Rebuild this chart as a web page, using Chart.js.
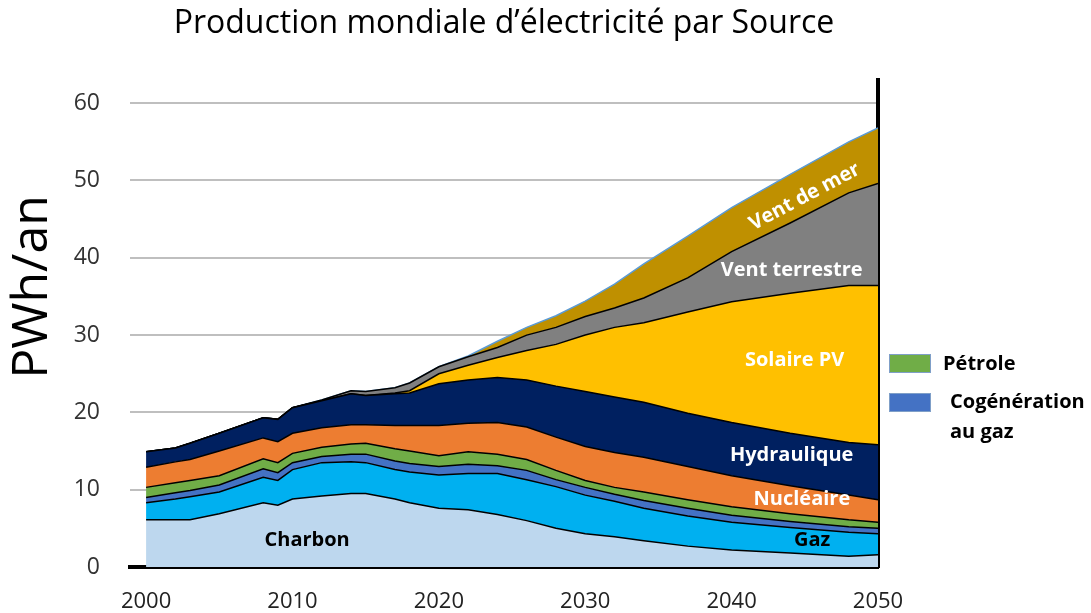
<!DOCTYPE html>
<html>
<head>
<meta charset="utf-8">
<script src="https://cdn.jsdelivr.net/npm/chart.js@4.4.0/dist/chart.umd.min.js"></script>
<style>
  body { margin: 0; background: #fff; }
  #wrap { position: relative; width: 1091px; height: 613px; }
  .legend-item { position: absolute; left: 889px; font-family: 'Open Sans', sans-serif; font-weight: bold; font-size: 20px; color: #000; }
  .legend-box { position: absolute; width: 42px; height: 19px; border: 1px solid #7f9fc8; box-sizing: border-box; }
  .legend-text { position: absolute; white-space: nowrap; line-height: 30px; }
</style>
</head>
<body>
<div id="wrap">
  <canvas id="chart" width="1091" height="613"></canvas>
  <div class="legend-item" style="top:354px">
    <div class="legend-box" style="background:#70AD47"></div>
    <div class="legend-text" style="left:54px; top:-6px">Pétrole</div>
  </div>
  <div class="legend-item" style="top:393px">
    <div class="legend-box" style="background:#4472C4"></div>
    <div class="legend-text" style="left:61px; top:-7px">Cogénération<br>au gaz</div>
  </div>
</div>
<script>
// values per source, PWh/an
const years = [2000, 2002, 2003, 2005, 2008, 2009, 2010, 2012, 2014, 2015, 2017, 2018, 2020, 2022, 2024, 2026, 2028, 2030, 2032, 2034, 2037, 2040, 2044, 2048, 2050];
const charbon = [6.1, 6.1, 6.1, 6.9, 8.3, 8.0, 8.8, 9.2, 9.5, 9.5, 8.8, 8.3, 7.6, 7.4, 6.8, 6.0, 5.0, 4.3, 3.9, 3.4, 2.7, 2.2, 1.8, 1.4, 1.6];
const gaz = [2.2, 2.7, 3.0, 2.8, 3.3, 3.2, 3.8, 4.3, 4.1, 4.0, 3.8, 4.0, 4.3, 4.7, 5.3, 5.3, 5.4, 5.0, 4.6, 4.2, 3.9, 3.6, 3.3, 3.1, 2.7];
const cogen = [0.7, 0.8, 0.8, 0.9, 1.1, 1.0, 0.9, 0.8, 1.0, 1.1, 1.1, 1.1, 1.1, 1.2, 1.0, 1.2, 0.9, 1.0, 0.9, 1.0, 1.0, 0.9, 0.8, 0.7, 0.7];
const petrole = [1.3, 1.3, 1.3, 1.2, 1.3, 1.3, 1.2, 1.2, 1.3, 1.4, 1.6, 1.6, 1.4, 1.6, 1.5, 1.4, 1.2, 0.9, 0.9, 1.1, 1.1, 1.1, 1.0, 0.9, 0.8];
const nucleaire = [2.6, 2.7, 2.7, 3.2, 2.7, 2.7, 2.6, 2.5, 2.5, 2.4, 3.0, 3.3, 3.9, 3.7, 4.1, 4.2, 4.3, 4.4, 4.5, 4.5, 4.3, 4.0, 3.6, 3.2, 2.9];
const hydraulique = [2.0, 1.8, 2.1, 2.3, 2.6, 2.9, 3.3, 3.5, 4.0, 3.8, 4.1, 4.2, 5.4, 5.6, 5.8, 6.1, 6.6, 7.1, 7.2, 7.1, 6.9, 6.9, 6.8, 6.8, 7.1];
const solaire = [0, 0, 0, 0, 0, 0, 0, 0, 0, 0, 0.1, 0.3, 1.3, 1.9, 2.6, 3.8, 5.4, 7.3, 9.0, 10.3, 13.1, 15.6, 18.1, 20.3, 20.6];
const ventTerrestre = [0, 0, 0, 0, 0, 0, 0, 0.1, 0.4, 0.5, 0.7, 1.0, 0.9, 1.1, 1.3, 2.0, 2.2, 2.4, 2.5, 3.2, 4.4, 6.5, 9.1, 12.0, 13.2];
const ventMer = [0, 0, 0, 0, 0, 0, 0, 0, 0, 0, 0, 0, 0, 0.1, 0.8, 1.0, 1.5, 2.0, 3.1, 4.4, 5.4, 5.7, 6.3, 6.6, 7.2];

const xTicks = [2000, 2010, 2020, 2030, 2040, 2050];
const yTicks = [0, 10, 20, 30, 40, 50, 60];

// in-chart labels: [text, year, value, color, angle]
const areaLabels = [
  ['Charbon', 2011.0, 3.5, '#000', 0],
  ['Gaz', 2045.5, 3.5, '#000', 0],
  ['Nucléaire', 2044.8, 8.8, '#fff', 0],
  ['Hydraulique', 2044.1, 14.5, '#fff', 0],
  ['Solaire PV', 2044.3, 26.8, '#fff', 0],
  ['Vent terrestre', 2044.1, 38.4, '#fff', 0],
  ['Vent de mer', 2045.0, 47.9, '#fff', -28]
];

const series = [
  ['Charbon', charbon, '#BDD7EE'],
  ['Gaz', gaz, '#00B0F0'],
  ['Cogénération au gaz', cogen, '#4472C4'],
  ['Pétrole', petrole, '#70AD47'],
  ['Nucléaire', nucleaire, '#ED7D31'],
  ['Hydraulique', hydraulique, '#002060'],
  ['Solaire PV', solaire, '#FFC000'],
  ['Vent terrestre', ventTerrestre, '#808080'],
  ['Vent de mer', ventMer, '#BF9000']
];

const datasets = series.map(([name, vals, color], i) => ({
  label: name,
  data: years.map((yr, j) => ({ x: yr, y: vals[j] })),
  backgroundColor: color,
  borderColor: i === series.length - 1 ? '#5B9BD5' : '#000',
  borderWidth: 1.5,
  fill: i === 0 ? 'origin' : '-1',
  pointRadius: 0,
  tension: 0
}));

const labelPlugin = {
  id: 'areaLabels',
  afterDatasetsDraw(chart) {
    const { ctx, scales: { x, y } } = chart;
    ctx.save();
    ctx.font = 'bold 20px "Open Sans"';
    ctx.textAlign = 'center';
    ctx.textBaseline = 'middle';
    areaLabels.forEach(([text, yr, v, color, angle]) => {
      ctx.save();
      ctx.translate(x.getPixelForValue(yr), y.getPixelForValue(v));
      ctx.rotate(angle * Math.PI / 180);
      ctx.fillStyle = color;
      ctx.fillText(text, 0, 0);
      ctx.restore();
    });
    // axis title
    ctx.translate(33, 287);
    ctx.rotate(-Math.PI / 2);
    ctx.font = '50px "Open Sans"';
    ctx.fillStyle = '#000';
    ctx.fillText('PWh/an', 0, 0);
    ctx.restore();
  }
};

new Chart(document.getElementById('chart'), {
  type: 'line',
  data: { datasets },
  plugins: [labelPlugin],
  options: {
    responsive: false,
    animation: false,
    layout: { padding: { left: 0, right: 213, top: 0, bottom: 0 } },
    scales: {
      x: {
        type: 'linear',
        min: 1998.9,
        max: 2050,
        afterBuildTicks: s => { s.ticks = xTicks.map(v => ({ value: v })); },
        afterFit: s => { s.height = 46; },
        grid: { display: false, drawTicks: false },
        border: { display: true, color: '#000', width: 4 },
        ticks: {
          padding: 22,
          color: '#222',
          font: { family: 'Open Sans', size: 22 },
          maxRotation: 0,
          callback: v => String(v)
        }
      },
      y: {
        stacked: true,
        min: 0,
        max: 63,
        afterBuildTicks: s => { s.ticks = yTicks.map(v => ({ value: v })); },
        afterFit: s => { s.width = 130; },
        grid: { color: '#BFBFBF', lineWidth: 2, drawTicks: false },
        border: { display: false },
        ticks: {
          padding: 30,
          color: '#333',
          font: { family: 'Open Sans', size: 23 }
        }
      },
      y2: {
        position: 'right',
        min: 0,
        max: 63,
        afterFit: s => { s.width = 0; },
        grid: { display: false, drawTicks: false },
        ticks: { display: false },
        border: { display: true, color: '#000', width: 4 }
      }
    },
    plugins: {
      legend: { display: false },
      tooltip: { enabled: false },
      title: {
        display: true,
        text: 'Production mondiale d’électricité par Source',
        fullSize: false,
        color: '#000',
        font: { family: 'Open Sans', size: 32, weight: 'normal' },
        padding: { top: 5, bottom: 36.6 }
      }
    }
  }
});
</script>
</body>
</html>
